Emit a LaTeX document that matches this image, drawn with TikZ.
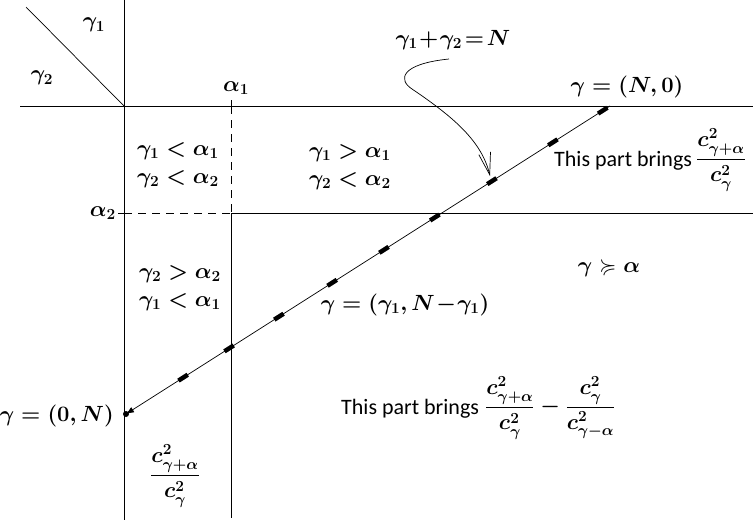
\RequirePackage{fix-cm}
\documentclass[tikz,border=0pt]{standalone}
\usepackage{amsmath,amssymb}
\usepackage{fontspec}
\newfontfamily\calfont{Carlito}
\usetikzlibrary{arrows.meta}
\tikzset{
  axis/.style={line width=0.9pt},
  dashline/.style={line width=0.9pt, dash pattern=on 8pt off 6pt},
  mk/.style={sloped, fill=black, inner sep=0pt, minimum width=11pt, minimum height=4.5pt},
  lbl/.style={inner sep=1pt, font=\fontsize{22}{31}\selectfont\boldmath, align=center},
  txt/.style={inner sep=1pt, font=\calfont\fontsize{22}{26}\selectfont},
}
\begin{document}
\begin{tikzpicture}[x=1pt,y=-1pt]
\useasboundingbox (0,0) rectangle (756,522);
% axes
\coordinate (D0) at (26,7);
\coordinate (O) at (124,106);
\coordinate (Vtop) at (124,0);
\coordinate (Vbot) at (124,520);
\coordinate (Hl) at (20,106);
\coordinate (Hr) at (753,106);
\draw[line width=0.7pt] (D0) -- (O);
\draw[axis] (Vtop) -- (Vbot);
\draw[axis] (Hl) -- (Hr);
% alpha1
\coordinate (A1t) at (231,100);
\coordinate (A1a) at (231,106);
\coordinate (A1m) at (231,213);
\coordinate (A1b) at (231,518);
\draw[axis] (A1t) -- (A1a);
\draw[dashline] (A1a) -- (A1m);
\draw[axis] (A1m) -- (A1b);
% alpha2
\coordinate (A2l) at (118,213);
\coordinate (A2a) at (124,213);
\coordinate (A2r) at (753,213);
\draw[axis] (A2l) -- (A2a);
\draw[dashline] (A2a) -- (A1m);
\draw[axis] (A1m) -- (A2r);
% diagonal
\coordinate (P0) at (126,414);
\coordinate (PN) at (610,106);
\fill (P0) circle (3pt);
\draw[line width=0.7pt, {Latex[length=8pt,width=6pt]}-] (P0) -- (PN)
  node[mk,pos=0.118]{} node[mk,pos=0.213]{} node[mk,pos=0.316]{}
  node[mk,pos=0.426]{} node[mk,pos=0.533]{} node[mk,pos=0.638]{}
  node[mk,pos=0.756]{} node[mk,pos=0.882]{} node[mk,pos=0.985]{};
% labels
\node[lbl] (g1) at (94,25) {$\gamma_1$};
\node[lbl] (g2) at (42,78) {$\gamma_2$};
\node[lbl] (a1) at (236,88) {$\alpha_1$};
\node[lbl, anchor=east] (a2) at (117,213) {$\alpha_2$};
\node[lbl] (sum) at (453,40) {$\gamma_1\!+\!\gamma_2\!=\!N$};
\node[lbl] (gN0) at (627,87) {$\gamma=(N,0)$};
\node[lbl, anchor=east] (g0N) at (115,416) {$\gamma=(0,N)$};
\node[lbl] (r1) at (178,165) {$\gamma_1<\alpha_1$\\[-3pt]$\gamma_2<\alpha_2$};
\node[lbl] (r2) at (350,167) {$\gamma_1>\alpha_1$\\[-3pt]$\gamma_2<\alpha_2$};
\node[lbl] (r3) at (180,288) {$\gamma_2>\alpha_2$\\[-3pt]$\gamma_1<\alpha_1$};
\node[lbl] (ge) at (609,268) {$\gamma\succcurlyeq\alpha$};
\node[lbl] (gline) at (405,305) {$\gamma=(\gamma_1,N\!-\!\gamma_1)$};
\node[lbl] (f1) at (175,476) {$\dfrac{c^2_{\gamma+\alpha}}{c^2_{\gamma}}$};
\node[txt, anchor=west] (t1) at (553,161) {This part brings};
\node[lbl] (f2) at (721,160) {$\dfrac{c^2_{\gamma+\alpha}}{c^2_{\gamma}}$};
\node[txt, anchor=west] (t2) at (340,409) {This part brings};
\node[lbl, anchor=west] (f3) at (484,408) {$\dfrac{c^2_{\gamma+\alpha}}{c^2_{\gamma}}-\dfrac{c^2_{\gamma}}{c^2_{\gamma-\alpha}}$};
% curved arrow
\coordinate (cs) at (449,59);
\coordinate (ce) at (490,176);
\draw[line width=0.7pt, -{Straight Barb[length=22pt,width=12pt]}] (cs) .. controls (400,64) and (398,80) .. (412,89) .. controls (455,118) and (482,142) .. (ce);
\end{tikzpicture}
\end{document}
